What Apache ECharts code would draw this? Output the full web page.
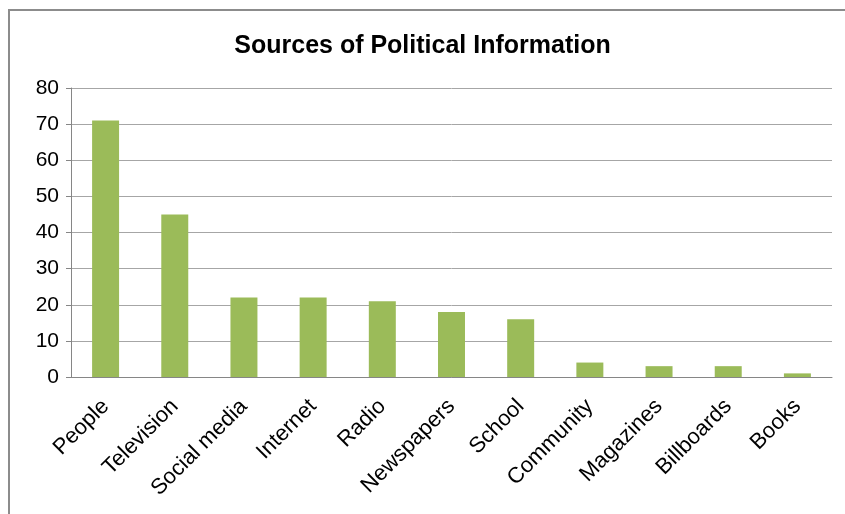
<!DOCTYPE html>
<html>
<head>
<meta charset="utf-8">
<script src="https://cdn.jsdelivr.net/npm/echarts@6/dist/echarts.min.js"></script>
<style>
  html, body { margin: 0; padding: 0; background: #fff; }
  #frame { position: absolute; left: 8px; top: 9px; width: 900px; height: 600px;
           border-top: 2px solid #8c8c8c; border-left: 2px solid #8c8c8c; }
  #chart { position: absolute; left: 0; top: 0; width: 845px; height: 514px; }
</style>
</head>
<body>
<div id="frame"></div>
<div id="chart"></div>
<script>
// sources and share of respondents
var sources = ['People', 'Television', 'Social media', 'Internet', 'Radio', 'Newspapers',
               'School', 'Community', 'Magazines', 'Billboards', 'Books'];
var counts = [71, 45, 22, 22, 21, 18, 16, 4, 3, 3, 1];

var myChart = echarts.init(document.getElementById('chart'));
myChart.setOption({
    animation: false,
    title: {
        text: 'Sources of Political Information',
        left: 'center',
        top: 29,
        textStyle: {
            fontFamily: 'Liberation Sans',
            fontWeight: 'bold',
            fontSize: 25,
            color: '#000'
        }
    },
    grid: { left: 71, right: 13, top: 88, bottom: 137 },
    xAxis: {
        type: 'category',
        data: sources,
        axisLine: { lineStyle: { color: '#868686', width: 1 } },
        axisTick: { alignWithLabel: false, length: 5, lineStyle: { color: '#868686' } },
        axisLabel: {
            rotate: 45,
            margin: 26,
            interval: 0,
            fontFamily: 'Liberation Sans',
            fontSize: 22,
            color: '#000'
        }
    },
    yAxis: {
        type: 'value',
        min: 0,
        max: 80,
        interval: 10,
        axisLine: { show: true, lineStyle: { color: '#868686' } },
        axisTick: { show: true, length: 5, lineStyle: { color: '#868686' } },
        splitLine: { lineStyle: { color: '#a6a6a6' } },
        axisLabel: {
            margin: 12,
            fontFamily: 'Liberation Sans',
            fontSize: 21,
            color: '#000'
        }
    },
    series: [{
        type: 'bar',
        data: counts,
        barWidth: '39%',
        itemStyle: { color: '#9bbb59' }
    }]
});
</script>
</body>
</html>
